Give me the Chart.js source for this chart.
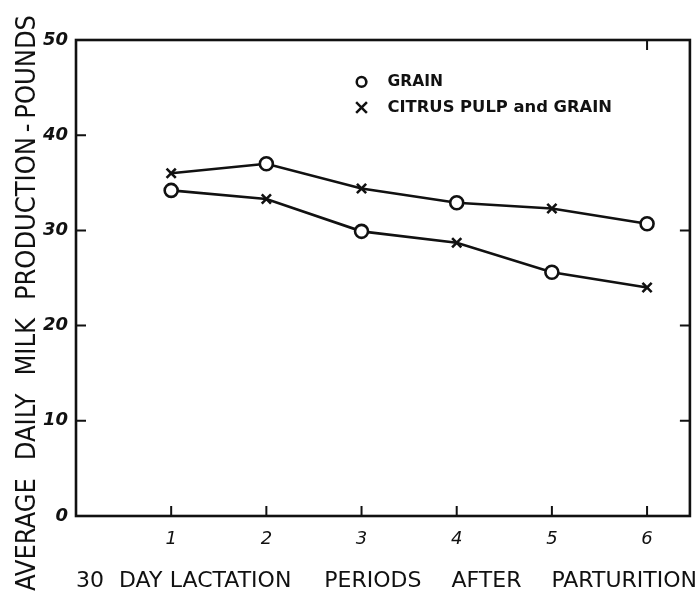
<!DOCTYPE html>
<html><head><meta charset="utf-8">
<script src="https://cdn.jsdelivr.net/npm/chart.js@4.4.1/dist/chart.umd.min.js"></script>
<style>html,body{margin:0;padding:0;background:#fff;}#wrap{width:699px;height:593px;}</style>
</head><body><div id="wrap"><canvas id="c" width="699" height="593"></canvas></div>
<script>
// ---- data ----
const periods = [1, 2, 3, 4, 5, 6];
const upperLine = [36.0, 37.0, 34.4, 32.9, 32.3, 30.7];
const upperMarkers = ['crossRot', 'circle', 'crossRot', 'circle', 'crossRot', 'circle'];
const lowerLine = [34.2, 33.3, 29.9, 28.7, 25.6, 24.0];
const lowerMarkers = ['circle', 'crossRot', 'circle', 'crossRot', 'circle', 'crossRot'];
const xTickValues = [1, 2, 3, 4, 5, 6];
const yTickValues = [0, 10, 20, 30, 40, 50];
const rightTickValues = [10, 20, 30];
const topTickValues = [6];
const legendMarkers = ['circle', 'crossRot'];
const legendTexts = ['GRAIN', 'CITRUS PULP and GRAIN'];
const yTitleWords = ['AVERAGE', 'DAILY', 'MILK', 'PRODUCTION', '-', 'POUNDS'];
const xTitleWords = ['30', 'DAY', 'LACTATION', 'PERIODS', 'AFTER', 'PARTURITION'];

const INK = '#111';

function stretchText(ctx, text, x0, x1, font) {
  ctx.font = font;
  const w = ctx.measureText(text).width;
  const target = Math.abs(x1 - x0);
  ctx.save();
  ctx.translate((x0 + x1) / 2, 0);
  ctx.scale(target / w, 1);
  ctx.textAlign = 'center';
  ctx.fillText(text, 0, 0);
  ctx.restore();
}

// lay words along a line from s0 to s1 with weighted gaps; uniform compression if needed
function layWords(ctx, words, s0, s1, gapWeights, font, minGap) {
  ctx.font = font;
  const widths = words.map(w => ctx.measureText(w).width);
  const total = widths.reduce((a, b) => a + b, 0);
  const wsum = gapWeights.reduce((a, b) => a + b, 0);
  const span = s1 - s0;
  let k = 1;
  if (total + minGap * wsum > span) k = (span - minGap * wsum) / total;
  const gapUnit = (span - total * k) / wsum;
  let pos = s0;
  ctx.textAlign = 'left';
  words.forEach((w, i) => {
    ctx.save(); ctx.translate(pos, 0); ctx.scale(k, 1); ctx.fillText(w, 0, 0); ctx.restore();
    pos += widths[i] * k + (i < gapWeights.length ? gapWeights[i] * gapUnit : 0);
  });
}

const decor = {
  id: 'decor',
  afterDraw(chart) {
    const ctx = chart.ctx;
    const a = chart.chartArea;
    const xs = chart.scales.x, ys = chart.scales.y;
    ctx.save();
    ctx.strokeStyle = INK; ctx.fillStyle = INK;
    ctx.lineWidth = 2.6;
    ctx.lineCap = 'square';
    ctx.strokeRect(a.left, a.top, a.right - a.left, a.bottom - a.top);
    ctx.lineWidth = 2;
    const TL = 9;
    ctx.beginPath();
    xTickValues.forEach(v => { const p = xs.getPixelForValue(v); ctx.moveTo(p, a.bottom); ctx.lineTo(p, a.bottom - TL); });
    topTickValues.forEach(v => { const p = xs.getPixelForValue(v); ctx.moveTo(p, a.top); ctx.lineTo(p, a.top + TL); });
    yTickValues.filter(v => v > 0 && v < 50).forEach(v => { const p = ys.getPixelForValue(v); ctx.moveTo(a.left, p); ctx.lineTo(a.left + TL, p); });
    rightTickValues.forEach(v => { const p = ys.getPixelForValue(v); ctx.moveTo(a.right, p); ctx.lineTo(a.right - TL, p); });
    ctx.stroke();

    // legend
    const lx = xs.getPixelForValue(3.0), ly0 = ys.getPixelForValue(45.6), ly1 = ys.getPixelForValue(42.9);
    const lys = [ly0, ly1];
    const textEnds = [443, 612];
    ctx.lineWidth = 2.5;
    legendMarkers.forEach((m, i) => {
      const cy = lys[i];
      ctx.beginPath();
      if (m === 'circle') { ctx.arc(lx, cy, 4.8, 0, Math.PI * 2); }
      else { ctx.moveTo(lx - 4.5, cy - 4.5); ctx.lineTo(lx + 4.5, cy + 4.5); ctx.moveTo(lx + 4.5, cy - 4.5); ctx.lineTo(lx - 4.5, cy + 4.5); }
      ctx.stroke();
      ctx.save(); ctx.translate(0, cy); ctx.textBaseline = 'middle';
      stretchText(ctx, legendTexts[i], lx + 26, textEnds[i], 'bold 16px "DejaVu Sans"');
      ctx.restore();
    });

    // x title
    ctx.save(); ctx.translate(0, 581); ctx.textBaseline = 'middle';
    layWords(ctx, xTitleWords, 76, 697, [1.0, 0.5, 2.2, 2.0, 2.0], '22px "DejaVu Sans"', 6);
    ctx.restore();

    // y title (rotated)
    ctx.save(); ctx.translate(28, 593); ctx.rotate(-Math.PI / 2); ctx.textBaseline = 'middle';
    layWords(ctx, yTitleWords, 2, 578, [3, 3, 3, 0.8, 0.8], '27px "DejaVu Sans Condensed", "DejaVu Sans"', 6);
    ctx.restore();
    ctx.restore();
  }
};

new Chart(document.getElementById('c'), {
  type: 'line',
  data: {
    labels: periods,
    datasets: [
      { data: periods.map((p, i) => ({ x: p, y: upperLine[i] })), pointStyle: upperMarkers },
      { data: periods.map((p, i) => ({ x: p, y: lowerLine[i] })), pointStyle: lowerMarkers }
    ].map(d => Object.assign(d, {
      borderColor: INK, borderWidth: 2.6, tension: 0,
      pointRadius: 6.5, pointBorderWidth: 2.6, pointBorderColor: INK, pointBackgroundColor: '#fff'
    }))
  },
  options: {
    responsive: false, animation: false, devicePixelRatio: 1,
    layout: { padding: { top: 40, right: 9, left: 0, bottom: 0 } },
    plugins: { legend: { display: false }, tooltip: { enabled: false } },
    scales: {
      x: {
        type: 'linear', min: 0, max: 6.45,
        grid: { display: false }, border: { display: false },
        afterBuildTicks(s) { s.ticks = xTickValues.map(v => ({ value: v })); },
        afterFit(s) { s.height = 77; },
        ticks: { color: INK, padding: 5, font: { family: '"DejaVu Sans"', size: 18, style: 'italic' } }
      },
      y: {
        type: 'linear', min: 0, max: 50,
        grid: { display: false, drawTicks: false }, border: { display: false },
        afterBuildTicks(s) { s.ticks = yTickValues.map(v => ({ value: v })); },
        afterFit(s) { s.width = 76; },
        ticks: { color: INK, padding: 8, font: { family: '"DejaVu Sans"', size: 18, weight: 'bold', style: 'italic' } }
      }
    }
  },
  plugins: [decor]
});
</script>
</body></html>
